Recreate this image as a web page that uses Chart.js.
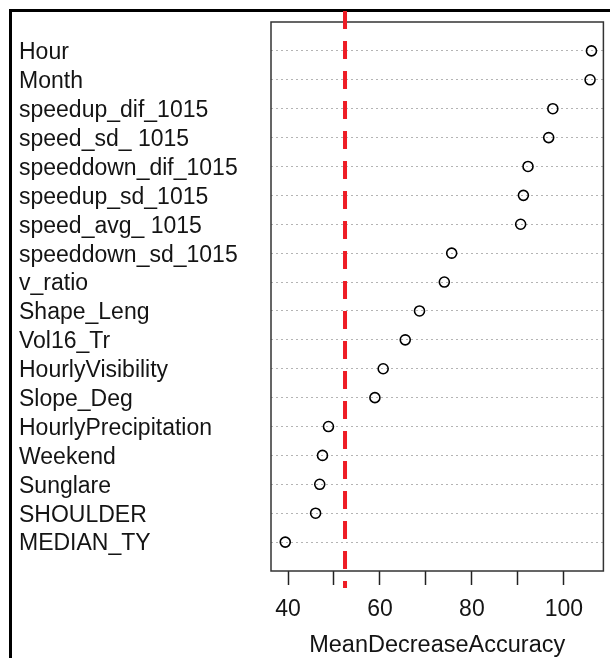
<!DOCTYPE html>
<html>
<head>
<meta charset="utf-8">
<script src="https://cdn.jsdelivr.net/npm/chart.js@4.4.1/dist/chart.umd.min.js"></script>
<style>
  html, body { margin: 0; padding: 0; background: #fff; }
  #wrap { width: 610px; height: 658px; position: relative; }
</style>
</head>
<body>
<div id="wrap"><canvas id="chart"></canvas></div>
<script>
// variable importance, top to bottom
const variables = [
  'Hour', 'Month', 'speedup_dif_1015', 'speed_sd_ 1015', 'speeddown_dif_1015',
  'speedup_sd_1015', 'speed_avg_ 1015', 'speeddown_sd_1015', 'v_ratio', 'Shape_Leng',
  'Vol16_Tr', 'HourlyVisibility', 'Slope_Deg', 'HourlyPrecipitation', 'Weekend',
  'Sunglare', 'SHOULDER', 'MEDIAN_TY'
];
const meanDecreaseAccuracy = [
  106.0, 105.7, 97.6, 96.7, 92.2,
  91.2, 90.6, 75.6, 74.0, 68.6,
  65.5, 60.7, 58.9, 48.8, 47.5,
  46.9, 46.0, 39.4
];
const xTicks = [40, 50, 60, 70, 80, 90, 100];
const xTickLabels = ['40', '', '60', '', '80', '', '100'];
const cutoff = 52.4;

const FONT = '"Liberation Sans", Arial, sans-serif';
const TEXT = '#141414';

const points = meanDecreaseAccuracy.map((v, i) => ({ x: v, y: i + 1 }));

// outer frame, plot box and the red cutoff line
const decorations = {
  id: 'decorations',
  beforeDraw(chart) {
    const c = chart.ctx;
    c.save();
    c.strokeStyle = '#000';
    c.lineWidth = 3;
    c.beginPath();
    c.moveTo(10.5, 658);
    c.lineTo(10.5, 10.5);
    c.lineTo(610, 10.5);
    c.stroke();
    c.restore();
  },
  afterDatasetsDraw(chart) {
    const c = chart.ctx;
    const a = chart.chartArea;
    c.save();
    c.strokeStyle = '#333';
    c.lineWidth = 1.5;
    c.strokeRect(a.left, a.top, a.right - a.left, a.bottom - a.top);
    const x = chart.scales.x.getPixelForValue(cutoff);
    c.strokeStyle = '#ee1c25';
    c.lineWidth = 4;
    c.setLineDash([18, 12]);
    c.beginPath();
    c.moveTo(x, 11);
    c.lineTo(x, a.bottom + 17);
    c.stroke();
    c.restore();
  }
};

new Chart(document.getElementById('chart'), {
  type: 'scatter',
  data: {
    datasets: [{
      data: points,
      pointRadius: 5,
      pointHoverRadius: 5,
      pointBorderWidth: 1.6,
      pointBorderColor: '#000',
      pointBackgroundColor: 'rgba(0,0,0,0)'
    }]
  },
  options: {
    responsive: true,
    maintainAspectRatio: false,
    animation: false,
    layout: { padding: { left: 19, right: 3, top: 22, bottom: 0 } },
    plugins: { legend: { display: false }, tooltip: { enabled: false } },
    scales: {
      x: {
        type: 'linear',
        min: 36.3,
        max: 108.6,
        afterBuildTicks: scale => { scale.ticks = xTicks.map(v => ({ value: v })); },
        afterFit: scale => { scale.height = 87; },
        border: { display: false },
        grid: { drawOnChartArea: false, drawTicks: true, tickLength: 14, tickWidth: 1.5, tickColor: '#222' },
        ticks: {
          color: TEXT,
          font: { family: FONT, size: 23 },
          padding: 11,
          maxRotation: 0,
          autoSkip: false,
          callback: (v, i) => xTickLabels[i]
        },
        title: {
          display: true,
          text: 'MeanDecreaseAccuracy',
          color: TEXT,
          font: { family: FONT, size: 23.5 },
          padding: { top: 0, bottom: -2 }
        }
      },
      y: {
        type: 'linear',
        reverse: true,
        min: 0,
        max: 19,
        afterBuildTicks: scale => { scale.ticks = variables.map((_, i) => ({ value: i + 1 })); },
        afterFit: scale => { scale.width = 252; },
        border: { display: false, dash: [2, 3] },
        grid: {
          drawTicks: false,
          color: '#b4b4b4',
          lineWidth: 1
        },
        ticks: {
          color: TEXT,
          font: { family: FONT, size: 23 },
          crossAlign: 'far',
          padding: 0,
          labelOffset: 2,
          autoSkip: false,
          callback: (v, i) => variables[i]
        }
      }
    }
  },
  plugins: [decorations]
});
</script>
</body>
</html>
